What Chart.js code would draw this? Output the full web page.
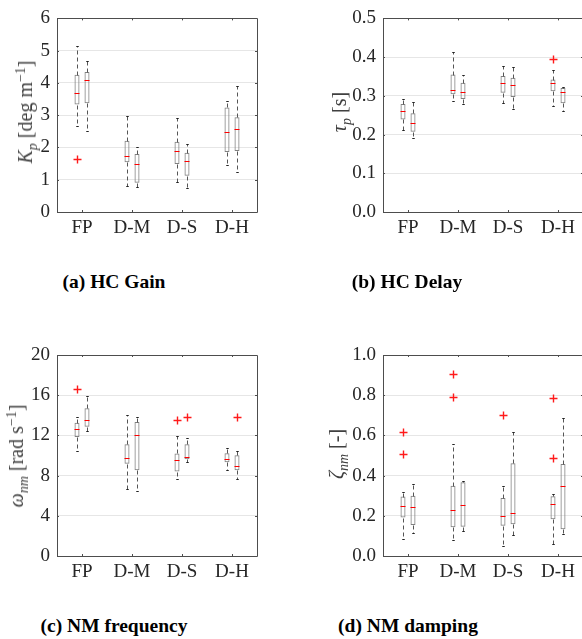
<!DOCTYPE html>
<html>
<head>
<meta charset="utf-8">
<script src="https://cdn.jsdelivr.net/npm/chart.js@4.4.0/dist/chart.umd.min.js"></script>
<style>
  body { margin: 0; width: 582px; height: 639px; overflow: hidden; background: #fff; position: relative; font-family: 'Liberation Serif', 'Times New Roman', 'DejaVu Serif', serif; }
  canvas { position: absolute; }
  .ytitle { position: absolute; transform: translate(-50%, -50%) rotate(-90deg); white-space: nowrap; font-size: 20px; line-height: 20px; color: #404040; }
  .ytitle i { font-style: italic; }
  .ytitle sub, .ytitle sup { font-size: 70%; line-height: 0; position: relative; vertical-align: baseline; }
  .ytitle sub { top: 0.35em; }
  .ytitle sup { top: -0.5em; }
  .caption { position: absolute; transform: translateX(-50%); white-space: nowrap; font-weight: bold; font-size: 19.5px; line-height: 20px; color: #000; }
</style>
</head>
<body>
<canvas id="gain" width="290" height="260" style="left:0;top:0"></canvas>
<canvas id="delay" width="294" height="260" style="left:290px;top:0"></canvas>
<canvas id="freq" width="290" height="270" style="left:0;top:330px"></canvas>
<canvas id="damp" width="294" height="270" style="left:290px;top:330px"></canvas>

<div class="ytitle" style="left:25px;top:112px"><i>K<sub>p</sub></i> [deg m<sup>&minus;1</sup>]</div>
<div class="ytitle" style="left:339px;top:112px"><i>&tau;<sub>p</sub></i> [s]</div>
<div class="ytitle" style="left:16px;top:456px"><i>&omega;<sub>nm</sub></i> [rad s<sup>&minus;1</sup>]</div>
<div class="ytitle" style="left:336px;top:454px"><i>&zeta;<sub>nm</sub></i> [-]</div>

<div class="caption" style="left:114px;top:272px">(a) HC Gain</div>
<div class="caption" style="left:407px;top:272px">(b) HC Delay</div>
<div class="caption" style="left:114px;top:616px">(c) NM frequency</div>
<div class="caption" style="left:408px;top:616px">(d) NM damping</div>

<script>
// categories
const categories = ['FP', 'D-M', 'D-S', 'D-H'];

// box stats per category: [whisker low, q1, median, q3, whisker high]
const gainA = [[2.65, 3.33, 3.70, 4.25, 5.14], [0.82, 1.54, 1.73, 2.21, 2.98], [0.92, 1.49, 1.89, 2.18, 2.91], [1.46, 1.86, 2.47, 3.24, 3.44]];
const gainB = [[2.50, 3.37, 4.10, 4.34, 4.67], [0.76, 0.91, 1.48, 1.80, 2.02], [0.74, 1.12, 1.58, 1.84, 2.12], [1.23, 1.89, 2.56, 2.94, 3.89]];
const gainOutA = [[1.65], [], [], []];
const gainOutB = [[], [], [], []];

const delayA = [[0.212, 0.239, 0.261, 0.279, 0.291], [0.287, 0.304, 0.316, 0.355, 0.412], [0.282, 0.308, 0.334, 0.351, 0.377], [0.275, 0.312, 0.332, 0.342, 0.367]];
const delayB = [[0.192, 0.207, 0.231, 0.255, 0.284], [0.278, 0.292, 0.311, 0.334, 0.355], [0.267, 0.297, 0.327, 0.347, 0.374], [0.262, 0.281, 0.311, 0.320, 0.322]];
const delayOutA = [[], [], [], [0.394]];
const delayOutB = [[], [], [], []];

const freqA = [[10.47, 11.83, 12.67, 13.27, 13.87], [6.67, 9.17, 9.77, 11.13, 14.0], [7.63, 8.40, 9.53, 10.2, 11.97], [8.60, 9.33, 9.67, 10.23, 10.7]];
const freqB = [[12.47, 12.87, 13.57, 14.7, 15.93], [6.50, 8.53, 12.0, 13.33, 13.8], [9.37, 9.63, 9.87, 11.13, 11.77], [7.70, 8.53, 8.93, 10.03, 10.47]];
const freqOutA = [[16.57], [], [13.53], []];
const freqOutB = [[], [], [13.83], [13.83]];

const dampA = [[0.086, 0.191, 0.248, 0.296, 0.316], [0.080, 0.143, 0.228, 0.349, 0.556], [0.051, 0.151, 0.201, 0.289, 0.347], [0.060, 0.183, 0.257, 0.297, 0.306]];
const dampB = [[0.115, 0.154, 0.244, 0.300, 0.360], [0.125, 0.146, 0.254, 0.367, 0.374], [0.103, 0.158, 0.213, 0.462, 0.616], [0.108, 0.133, 0.347, 0.458, 0.689]];
const dampOutA = [[0.616, 0.505], [0.905, 0.792], [0.703], [0.786, 0.488]];
const dampOutB = [[], [], [], []];

// tick values and labels
const gainTicks = [0, 1, 2, 3, 4, 5, 6];
const gainLabels = ['0', '1', '2', '3', '4', '5', '6'];
const delayTicks = [0, 0.1, 0.2, 0.3, 0.4, 0.5];
const delayLabels = ['0.0', '0.1', '0.2', '0.3', '0.4', '0.5'];
const freqTicks = [0, 4, 8, 12, 16, 20];
const freqLabels = ['0', '4', '8', '12', '16', '20'];
const dampTicks = [0, 0.2, 0.4, 0.6, 0.8, 1.0];
const dampLabels = ['0.0', '0.2', '0.4', '0.6', '0.8', '1.0'];

const textColor = '#262626';
const tickFont = { family: "'Liberation Serif', 'Times New Roman', 'DejaVu Serif', serif", size: 19 };

// whiskers, caps, medians, outliers and the axes box
const boxExtras = {
    id: 'boxExtras',
    afterDatasetsDraw(chart) {
        const ctx = chart.ctx;
        const ys = chart.scales.y;
        const py = v => Math.round(ys.getPixelForValue(v)) + 0.5;
        chart.data.datasets.forEach((ds, di) => {
            const meta = chart.getDatasetMeta(di);
            meta.data.forEach((bar, i) => {
                const s = ds.stats[i];
                const x = Math.round(bar.x) + 0.5;
                const hw = bar.width / 2;
                ctx.save();
                ctx.lineWidth = 1;
                ctx.strokeStyle = '#555555';
                ctx.setLineDash([4, 3]);
                ctx.beginPath();
                ctx.moveTo(x, py(s[3])); ctx.lineTo(x, py(s[4]));
                ctx.moveTo(x, py(s[1])); ctx.lineTo(x, py(s[0]));
                ctx.stroke();
                ctx.setLineDash([]);
                ctx.strokeStyle = '#222222';
                ctx.beginPath();
                ctx.moveTo(x - hw / 2, py(s[4])); ctx.lineTo(x + hw / 2, py(s[4]));
                ctx.moveTo(x - hw / 2, py(s[0])); ctx.lineTo(x + hw / 2, py(s[0]));
                ctx.stroke();
                // median
                ctx.strokeStyle = '#ff0000';
                ctx.beginPath();
                ctx.moveTo(bar.x - hw, py(s[2])); ctx.lineTo(bar.x + hw, py(s[2]));
                ctx.stroke();
                ctx.restore();
            });
        });
        // outliers on top
        chart.data.datasets.forEach((ds, di) => {
            const meta = chart.getDatasetMeta(di);
            meta.data.forEach((bar, i) => {
                const x = Math.round(bar.x) + 0.5;
                ds.outliers[i].forEach(v => {
                    const oy = py(v);
                    ctx.save();
                    ctx.setLineDash([]);
                    ctx.lineWidth = 1.4;
                    ctx.strokeStyle = '#ff1a1a';
                    ctx.beginPath();
                    ctx.moveTo(x - 4, oy); ctx.lineTo(x + 4, oy);
                    ctx.moveTo(x, oy - 4); ctx.lineTo(x, oy + 4);
                    ctx.stroke();
                    ctx.restore();
                });
            });
        });
    },
    afterDraw(chart) {
        const ctx = chart.ctx;
        const a = chart.chartArea;
        const xs = chart.scales.x, ys = chart.scales.y;
        ctx.save();
        ctx.strokeStyle = '#4d4d4d';
        ctx.lineWidth = 1;
        ctx.beginPath();
        ctx.rect(Math.round(a.left) + 0.5, Math.round(a.top) + 0.5, Math.round(a.right - a.left), Math.round(a.bottom - a.top));
        // small inward ticks
        xs.ticks.forEach((t, i) => {
            const x = Math.round(xs.getPixelForTick(i)) + 0.5;
            ctx.moveTo(x, a.bottom); ctx.lineTo(x, a.bottom - 2);
            ctx.moveTo(x, a.top); ctx.lineTo(x, a.top + 2);
        });
        ys.ticks.forEach((t, i) => {
            const y = Math.round(ys.getPixelForTick(i)) + 0.5;
            ctx.moveTo(a.left, y); ctx.lineTo(a.left + 2, y);
            ctx.moveTo(a.right, y); ctx.lineTo(a.right - 2, y);
        });
        ctx.stroke();
        ctx.restore();
    }
};

function boxChart(id, seriesA, seriesB, outA, outB, ticks, labels, yWidth, padTop, xHeight, padRight) {
    const mkSet = (stats, outs) => ({
        data: stats.map(s => [s[1], s[3]]),
        stats: stats,
        outliers: outs,
        backgroundColor: 'rgba(0,0,0,0)',
        borderColor: '#808080',
        borderWidth: 1,
        borderSkipped: false,
        categoryPercentage: 0.4,
        barPercentage: 0.5
    });
    new Chart(document.getElementById(id), {
        type: 'bar',
        data: {
            labels: categories,
            datasets: [mkSet(seriesA, outA), mkSet(seriesB, outB)]
        },
        options: {
            responsive: false,
            animation: false,
            layout: { padding: { top: padTop, right: padRight, left: 0, bottom: 0 } },
            plugins: { legend: { display: false }, tooltip: { enabled: false } },
            scales: {
                x: {
                    grid: { display: false, drawTicks: false },
                    border: { display: false },
                    ticks: { color: textColor, font: tickFont, padding: 5, maxRotation: 0 },
                    afterFit: s => { s.height = xHeight; }
                },
                y: {
                    min: ticks[0],
                    max: ticks[ticks.length - 1],
                    grid: { color: '#e6e6e6', lineWidth: 1, drawTicks: false },
                    border: { display: false },
                    afterBuildTicks: s => { s.ticks = ticks.map(v => ({ value: v })); },
                    ticks: { color: textColor, font: tickFont, padding: 7, callback: (v, i) => labels[i] },
                    afterFit: s => { s.width = yWidth; }
                }
            }
        },
        plugins: [boxExtras]
    });
}

boxChart('gain', gainA, gainB, gainOutA, gainOutB, gainTicks, gainLabels, 57, 12, 48, 33);
boxChart('delay', delayA, delayB, delayOutA, delayOutB, delayTicks, delayLabels, 93, 12, 48, 1);
boxChart('freq', freqA, freqB, freqOutA, freqOutB, freqTicks, freqLabels, 57, 25, 44, 33);
boxChart('damp', dampA, dampB, dampOutA, dampOutB, dampTicks, dampLabels, 93, 25, 44, 1);
</script>
</body>
</html>
